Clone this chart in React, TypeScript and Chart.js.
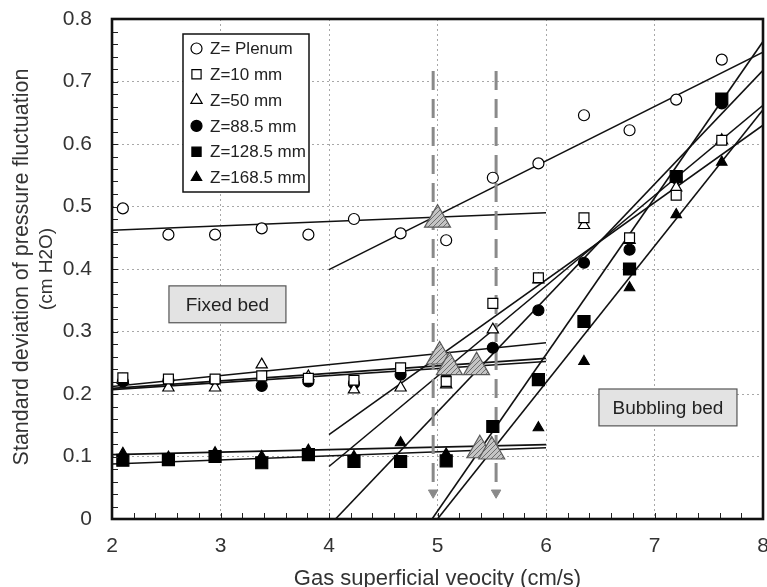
import React, { useEffect, useRef } from 'react';
import { Chart, registerables } from 'chart.js';
import { drawPoint } from 'chart.js/helpers';

Chart.register(...registerables);

// ---- data ----
const velocity = [2.1, 2.52, 2.95, 3.38, 3.81, 4.23, 4.66, 5.08, 5.51, 5.93, 6.35, 6.77, 7.2, 7.62];
const plenum = [0.497, 0.455, 0.455, 0.465, 0.455, 0.48, 0.457, 0.446, 0.546, 0.569, 0.646, 0.622, 0.671, 0.735];
const z10 = [0.226, 0.224, 0.224, 0.229, 0.225, 0.222, 0.242, 0.22, 0.345, 0.386, 0.482, 0.45, 0.518, 0.606];
const z50 = [0.222, 0.21, 0.21, 0.247, 0.228, 0.207, 0.21, 0.215, 0.303, 0.383, 0.47, 0.446, 0.53, 0.606];
const z885 = [0.22, 0.222, 0.222, 0.213, 0.22, 0.217, 0.231, 0.235, 0.274, 0.334, 0.41, 0.431, 0.545, 0.665];
const z1285 = [0.094, 0.095, 0.1, 0.09, 0.103, 0.092, 0.092, 0.093, 0.148, 0.223, 0.316, 0.4, 0.548, 0.672];
const z1685 = [0.105, 0.099, 0.106, 0.1, 0.11, 0.1, 0.122, 0.104, 0.11, 0.146, 0.252, 0.37, 0.487, 0.571];

const seriesLabels = ['Z= Plenum', 'Z=10 mm', 'Z=50 mm', 'Z=88.5 mm', 'Z=128.5 mm', 'Z=168.5 mm'];

// transition points (hatched triangles)
const transVelocity = [5.0, 5.02, 5.11, 5.36, 5.39, 5.5];
const transValue = [0.479, 0.26, 0.243, 0.243, 0.11, 0.108];

// fitted lines: [x, y] end points
const fitPlenumFixed = [[2, 0.462], [6, 0.49]];
const fitPlenumBubbling = [[4, 0.399], [8, 0.747]];
const fitFixedUpperA = [[2, 0.212], [6, 0.282]];
const fitFixedUpperB = [[2, 0.207], [6, 0.252]];
const fitFixedUpperC = [[2, 0.209], [6, 0.257]];
const fitFixedLowerA = [[2, 0.103], [6, 0.119]];
const fitFixedLowerB = [[2, 0.088], [6, 0.114]];
const fitBubbleZ50 = [[4, 0.135], [8, 0.63]];
const fitBubbleZ10 = [[4, 0.084], [8, 0.662]];
const fitBubbleZ885 = [[4.06, 0], [8, 0.718]];
const fitBubbleZ1285 = [[4.95, 0], [8, 0.764]];
const fitBubbleZ1685 = [[5.0, 0], [8, 0.655]];

// vertical transition velocity markers
const umfVelocity = [4.96, 5.54];
const umfRange = [0.717, 0.042];

const xTitle = 'Gas superficial veocity (cm/s)';
const yTitle = ['Standard deviation of pressure fluctuation', '(cm H2O)'];
const regionLabels = ['Fixed bed', 'Bubbling bed'];
const regionBoxes = [[2.525, 3.603, 0.373, 0.314], [6.488, 7.76, 0.208, 0.149]];

const FONT = '"Liberation Sans", Arial, sans-serif';

const pts = (ys: number[]) => velocity.map((x, i) => ({ x, y: ys[i] }));
const seg = (p: number[][]) => p.map(([x, y]) => ({ x, y }));

const markerStyles = [
  { pointStyle: 'circle', radius: 5.5, fill: '#ffffff' },
  { pointStyle: 'rect', radius: 7, fill: '#ffffff' },
  { pointStyle: 'triangle', radius: 6.5, fill: '#ffffff' },
  { pointStyle: 'circle', radius: 5.5, fill: '#000000' },
  { pointStyle: 'rect', radius: 8.5, fill: '#000000' },
  { pointStyle: 'triangle', radius: 6, fill: '#000000' },
];

function makeHatch(): CanvasPattern | string {
  const c = document.createElement('canvas');
  c.width = 5;
  c.height = 5;
  const g = c.getContext('2d');
  if (!g) return '#bbbbbb';
  g.fillStyle = '#c4c4c4';
  g.fillRect(0, 0, 5, 5);
  g.strokeStyle = '#6e6e6e';
  g.lineWidth = 1;
  g.beginPath();
  g.moveTo(-1, 6);
  g.lineTo(6, -1);
  g.moveTo(-1, 1);
  g.lineTo(1, -1);
  g.moveTo(4, 6);
  g.lineTo(6, 4);
  g.stroke();
  const p = g.createPattern(c, 'repeat');
  return p || '#bbbbbb';
}

const overlayPlugin = {
  id: 'overlay',
  afterDraw(chart: any) {
    const { ctx, chartArea: a, scales } = chart;
    const xs = scales.x;
    const ys = scales.y;
    ctx.save();
    // minor ticks (inward)
    ctx.strokeStyle = '#222';
    ctx.lineWidth = 1;
    for (let i = 0; i <= 30; i++) {
      const px = Math.round(xs.getPixelForValue(2 + i * 0.2)) + 0.5;
      ctx.beginPath();
      ctx.moveTo(px, a.bottom);
      ctx.lineTo(px, a.bottom - 6);
      ctx.stroke();
    }
    for (let i = 0; i <= 40; i++) {
      const py = Math.round(ys.getPixelForValue(i * 0.02)) + 0.5;
      ctx.beginPath();
      ctx.moveTo(a.left, py);
      ctx.lineTo(a.left + 6, py);
      ctx.stroke();
    }
    // frame
    ctx.lineWidth = 2.6;
    ctx.strokeStyle = '#111';
    ctx.strokeRect(a.left, a.top, a.right - a.left, a.bottom - a.top);

    // region boxes
    ctx.font = '19px ' + FONT;
    ctx.textAlign = 'center';
    ctx.textBaseline = 'middle';
    regionBoxes.forEach((b, i) => {
      const x1 = xs.getPixelForValue(b[0]);
      const x2 = xs.getPixelForValue(b[1]);
      const y1 = ys.getPixelForValue(b[2]);
      const y2 = ys.getPixelForValue(b[3]);
      ctx.fillStyle = '#e3e3e3';
      ctx.fillRect(x1, y1, x2 - x1, y2 - y1);
      ctx.strokeStyle = '#555';
      ctx.lineWidth = 1.2;
      ctx.strokeRect(x1, y1, x2 - x1, y2 - y1);
      ctx.fillStyle = '#222';
      ctx.fillText(regionLabels[i], (x1 + x2) / 2, (y1 + y2) / 2 + 1);
    });

    // legend
    const lx = a.left + 71;
    const ly = a.top + 15;
    ctx.fillStyle = '#fff';
    ctx.fillRect(lx, ly, 126, 158);
    ctx.strokeStyle = '#111';
    ctx.lineWidth = 1.5;
    ctx.strokeRect(lx, ly, 126, 158);
    ctx.font = '17px ' + FONT;
    ctx.textAlign = 'left';
    ctx.textBaseline = 'middle';
    seriesLabels.forEach((lab, i) => {
      const cy = ly + 14.5 + i * 25.8;
      const m = markerStyles[i];
      ctx.fillStyle = m.fill;
      ctx.strokeStyle = '#000';
      ctx.lineWidth = 1.2;
      drawPoint(ctx, { pointStyle: m.pointStyle, radius: Math.min(m.radius, 6.5), rotation: 0, borderWidth: 1.2 } as any, lx + 13.5, cy);
      ctx.fillStyle = '#222';
      ctx.fillText(lab, lx + 27, cy + 1);
    });

    // axis titles
    ctx.fillStyle = '#333';
    ctx.font = '22px ' + FONT;
    ctx.textAlign = 'center';
    ctx.textBaseline = 'middle';
    ctx.fillText(xTitle, (a.left + a.right) / 2, 579);
    const cyMid = (a.top + a.bottom) / 2;
    ctx.save();
    ctx.translate(22, cyMid - 2);
    ctx.rotate(-Math.PI / 2);
    ctx.font = '21.5px ' + FONT;
    ctx.fillText(yTitle[0], 0, 0);
    ctx.restore();
    ctx.save();
    ctx.translate(47, cyMid);
    ctx.rotate(-Math.PI / 2);
    ctx.font = '19px ' + FONT;
    ctx.fillText(yTitle[1], 0, 0);
    ctx.restore();

    ctx.restore();
  },
};

const zeroPad = (s: any) => {
  s.paddingTop = 0;
  s.paddingBottom = 0;
  s.paddingLeft = 0;
  s.paddingRight = 0;
};

export default function App() {
  const ref = useRef<HTMLCanvasElement | null>(null);
  useEffect(() => {
    if (!ref.current) return;
    const hatch = makeHatch();
    const series = [plenum, z10, z50, z885, z1285, z1685];
    const markerSets = series.map((s, i) => ({
      type: 'scatter' as const,
      label: seriesLabels[i],
      data: pts(s),
      pointStyle: markerStyles[i].pointStyle,
      pointRadius: markerStyles[i].radius,
      pointBackgroundColor: markerStyles[i].fill,
      pointBorderColor: '#000',
      pointBorderWidth: 1.2,
      showLine: false,
      order: 2,
    }));
    const fits = [
      fitPlenumFixed, fitPlenumBubbling, fitFixedUpperA, fitFixedUpperB, fitFixedUpperC,
      fitFixedLowerA, fitFixedLowerB, fitBubbleZ50, fitBubbleZ10, fitBubbleZ885, fitBubbleZ1285, fitBubbleZ1685,
    ];
    const fitSets = fits.map((f) => ({
      type: 'scatter' as const,
      label: 'fit',
      data: seg(f),
      showLine: true,
      borderColor: '#111',
      borderWidth: 1.6,
      pointRadius: 0,
      order: 10,
    }));
    const umfSets = umfVelocity.map((u) => ({
      type: 'scatter' as const,
      label: 'umf',
      data: umfRange.map((y) => ({ x: u, y })),
      showLine: true,
      borderColor: '#8a8a8a',
      borderWidth: 3,
      borderDash: [19, 9],
      pointRadius: [0, 5.5],
      pointStyle: 'triangle',
      rotation: 180,
      pointBackgroundColor: '#8a8a8a',
      pointBorderColor: '#8a8a8a',
      pointBorderWidth: 1,
      order: 4,
    }));
    const transSet = {
      type: 'scatter' as const,
      label: 'transition',
      data: transVelocity.map((x, i) => ({ x, y: transValue[i] })),
      pointStyle: 'triangle',
      pointRadius: 15,
      pointBackgroundColor: hatch,
      pointBorderColor: '#5a5a5a',
      pointBorderWidth: 1.2,
      showLine: false,
      order: 0,
    };
    const chart = new Chart(ref.current, {
      type: 'scatter',
      data: { datasets: [transSet, ...markerSets, ...umfSets, ...fitSets] as any },
      options: {
        animation: false,
        responsive: true,
        maintainAspectRatio: false,
        layout: { autoPadding: false, padding: { top: 19, right: 4, left: 0, bottom: 0 } },
        plugins: { legend: { display: false }, tooltip: { enabled: false } },
        scales: {
          x: {
            type: 'linear',
            min: 2,
            max: 8,
            afterFit: (s: any) => { s.height = 68; zeroPad(s); },
            ticks: { stepSize: 1, padding: 15, color: '#333', font: { family: FONT, size: 21 } },
            grid: { color: '#a8a8a8', lineWidth: 1, drawTicks: false },
            border: { display: false, dash: [2, 3] },
          },
          y: {
            type: 'linear',
            min: 0,
            max: 0.8,
            afterFit: (s: any) => { s.width = 112; zeroPad(s); },
            ticks: {
              stepSize: 0.1,
              padding: 20,
              color: '#333',
              font: { family: FONT, size: 21 },
              callback: (v: any) => (Number(v) === 0 ? '0' : Number(v).toFixed(1)),
            },
            grid: { color: '#a8a8a8', lineWidth: 1, drawTicks: false },
            border: { display: false, dash: [2, 3] },
          },
        },
      },
      plugins: [overlayPlugin],
    });
    return () => chart.destroy();
  }, []);
  return (
    <div style={{ position: 'fixed', left: 0, top: 0, width: 767, height: 587, background: '#fff' }}>
      <canvas ref={ref} />
    </div>
  );
}
